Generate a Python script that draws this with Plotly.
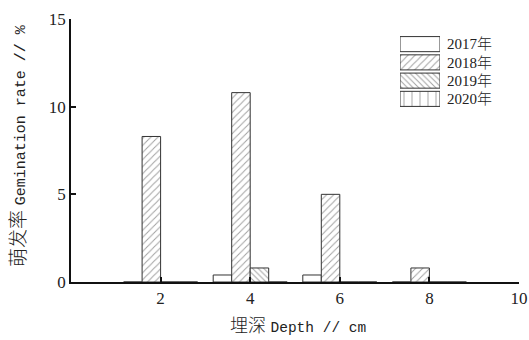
import plotly.graph_objects as go

depths = [2, 4, 6, 8]
series_names = ["2017年", "2018年", "2019年", "2020年"]
rate_2017 = [0, 0.4, 0.4, 0]
rate_2018 = [8.3, 10.8, 5.0, 0.8]
rate_2019 = [0, 0.8, 0, 0]
rate_2020 = [0, 0, 0, 0]
series_values = [rate_2017, rate_2018, rate_2019, rate_2020]

x_ticks = [2, 4, 6, 8, 10]
y_ticks = [0, 5, 10, 15]

patterns = [
    dict(shape=""),
    dict(shape="/", size=5, solidity=0.2, fgcolor="#444", bgcolor="white"),
    dict(shape="\\", size=4, solidity=0.25, fgcolor="#444", bgcolor="white"),
    dict(shape="|", size=8, solidity=0.12, fgcolor="#444", bgcolor="white"),
]

LAT = "Liberation Serif, Noto Sans CJK SC"
MONO = "Liberation Mono"

fig = go.Figure()
for name, vals, pat in zip(series_names, series_values, patterns):
    fig.add_trace(go.Bar(
        x=depths, y=vals, name=name,
        marker=dict(color="white", line=dict(color="#333", width=1), pattern=pat),
        showlegend=False, xaxis="x", yaxis="y",
    ))

# legend drawn as boxes on a small auxiliary axis
for name, pat in zip(series_names, patterns):
    fig.add_trace(go.Bar(
        x=[1], y=[name], orientation="h",
        marker=dict(color="white", line=dict(color="#333", width=1), pattern=pat),
        showlegend=False, xaxis="x2", yaxis="y2", hoverinfo="skip",
    ))

W, H = 529, 340
L, R, T, B = 71, 10, 19, 58
pw, ph = W - L - R, H - T - B

def px_x(p):
    return (p - L) / pw

def px_y(p):
    return (H - B - p) / ph

fig.update_layout(
    width=W, height=H,
    margin=dict(l=L, r=R, t=T, b=B, autoexpand=False),
    plot_bgcolor="white", paper_bgcolor="white",
    barmode="group", bargap=0.174, bargroupgap=0,
    font=dict(family=LAT, size=17, color="#222"),
    xaxis=dict(
        range=[0, 10], tickvals=x_ticks, ticktext=[str(v) for v in x_ticks],
        showline=True, linecolor="#111", linewidth=2,
        ticks="inside", ticklen=5, tickwidth=1.5, tickcolor="#111",
        showgrid=False, zeroline=False, domain=[0, 1],
        tickfont=dict(family=LAT, size=17), automargin=False,
    ),
    yaxis=dict(
        range=[0, 15], tickvals=y_ticks,
        showline=True, linecolor="#111", linewidth=1.7,
        ticks="inside", ticklen=5, tickwidth=1.5, tickcolor="#111",
        showgrid=False, zeroline=False, domain=[0, 1],
        tickfont=dict(family=LAT, size=17), automargin=False,
    ),
    xaxis2=dict(
        domain=[px_x(400), px_x(440)], range=[0, 1], anchor="y2",
        visible=False, fixedrange=True,
    ),
    yaxis2=dict(
        domain=[px_y(108), px_y(35)], anchor="x2", side="right",
        type="category",
        categoryorder="array", categoryarray=series_names[::-1],
        showline=False, ticks="", showgrid=False, zeroline=False,
        tickfont=dict(family=LAT, size=15, weight=300), ticklabelstandoff=6,
        automargin=False,
    ),
    showlegend=False,
)

fig.add_annotation(
    text=f"埋深 <span style='font-family:{MONO};font-size:14.5px'>Depth // cm</span>",
    xref="paper", yref="paper",
    x=px_x(298), y=px_y(326), xanchor="center", yanchor="middle",
    showarrow=False, font=dict(family=LAT, size=18, weight=300),
)
fig.add_annotation(
    text=f"萌发率 <span style='font-family:{MONO};font-size:15px'>Gemination rate // %</span>",
    xref="paper", yref="paper",
    x=px_x(19), y=px_y(146), xanchor="center", yanchor="middle",
    showarrow=False, textangle=-90, font=dict(family=LAT, size=19, weight=300),
)

fig.write_html(
    "out.html",
    config={"displayModeBar": False},
    post_script="document.body.style.margin='0';document.body.style.padding='0';",
)
